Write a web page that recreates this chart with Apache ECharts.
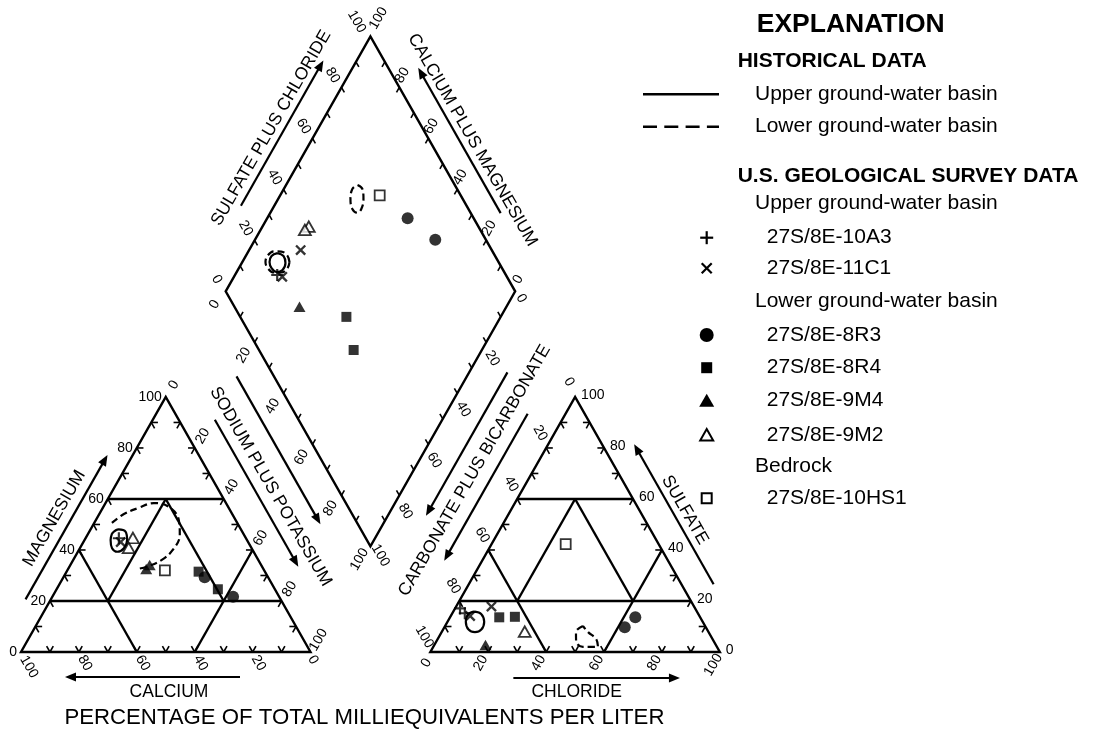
<!DOCTYPE html>
<html>
<head>
<meta charset="utf-8">
<script src="https://cdn.jsdelivr.net/npm/echarts@6/dist/echarts.min.js"></script>
<style>
html,body{margin:0;padding:0;background:#ffffff;}
#chart{width:1094px;height:734px;}
</style>
</head>
<body>
<div id="chart"></div>
<script>
// ================= DATA =================
const scaleLabels = [0, 20, 40, 60, 80, 100];
const tickSteps = [10, 20, 30, 40, 50, 60, 70, 80, 90];
const wellNames = ['27S/8E-10A3', '27S/8E-11C1', '27S/8E-8R3', '27S/8E-8R4', '27S/8E-9M4', '27S/8E-9M2', '27S/8E-10HS1'];

// Cation triangle: [magnesium %, sodium plus potassium %]
const cation10A3 = [[44.6, 11.5]];
const cation11C1 = [[43.1, 12.9]];
const cation8R3 = [[29.3, 48.8], [21.7, 62.4]];
const cation8R4 = [[31.5, 45.6], [24.6, 55.7]];
const cation9M4 = [[32.5, 27.0], [34.1, 27.4]];
const cation9M2 = [[44.7, 16.3], [40.8, 16.8]];
const cation10HS1 = [[32.0, 33.7]];

// Anion triangle: [sulfate %, chloride %]
const anion10A3 = [[17.1, 1.7], [15.2, 4.3]];
const anion11C1 = [[17.8, 12.2], [14.1, 6.7]];
const anion8R3 = [[9.7, 62.3], [13.6, 64.0]];
const anion8R4 = [[13.6, 17.0], [13.8, 22.3]];
const anion9M4 = [[2.7, 17.7]];
const anion9M2 = [[8.0, 28.6]];
const anion10HS1 = [[42.3, 25.6]];

// Diamond: [sulfate plus chloride %, sodium plus potassium %]
const diamond10A3 = [[21.0, 14.6]];
const diamond11C1 = [[34.0, 17.8], [22.4, 16.7]];
const diamond8R3 = [[77.2, 48.5], [82.5, 62.3]];
const diamond8R4 = [[36.7, 46.7], [32.7, 55.7]];
const diamond9M4 = [[22.5, 28.5]];
const diamond9M2 = [[41.4, 16.0], [39.4, 15.3]];
const diamond10HS1 = [[72.0, 34.4]];

// Historical data outlines
const histUpperCation = [[46.5,8.2],[48.1,9.7],[47.2,12.5],[43.9,14.7],[40.7,15.2],[39.3,13.6],[40.7,11.1],[43.9,9.0]];
const histLowerCation = [[50.6,6.1],[54.1,8.5],[56.5,12.4],[58.4,16.7],[56.9,22.6],[51.8,28.6],[45.9,31.9],[40.0,32.4],[36.1,30.6],[33.7,27.3],[32.5,23.75]];
const histUpperAnion = [[15.8,7.5],[14.9,10.1],[11.9,12.65],[8.8,13.2],[7.8,11.5],[8.8,8.8],[11.9,6.3],[14.9,5.7]];
const histLowerAnion = [[10.2,47.6],[7.8,46.4],[4.3,48.2],[2.0,51.7],[2.0,56.9],[5.1,54.7],[7.8,50.6]];
const histUpperDiamond = [[25.4,10.4],[26.9,13.05],[26.2,15.1],[23.8,15.45],[21.4,13.8],[20.4,11.3],[20.9,9.4],[22.8,8.9]];
const histLowerDiamondA = [[27.8,16.3],[28.3,14.2],[27.0,11.4],[24.5,8.8],[21.6,7.5],[19.5,8.0],[19.1,10.1],[20.3,12.9],[22.9,15.5],[25.8,16.8]];
const histLowerDiamondB = [[66.4,24.7],[67.3,27.2],[65.7,29.5],[63.0,30.7],[60.9,30.1],[59.9,27.6],[61.2,25.0],[63.9,23.7]];

const titleCa = 'CALCIUM', titleMg = 'MAGNESIUM', titleNa = 'SODIUM PLUS POTASSIUM';
const titleCl = 'CHLORIDE', titleSO4 = 'SULFATE', titleCO3 = 'CARBONATE PLUS BICARBONATE';
const titleSO4Cl = 'SULFATE PLUS CHLORIDE', titleCaMg = 'CALCIUM PLUS MAGNESIUM';
const titleBottom = 'PERCENTAGE OF TOTAL MILLIEQUIVALENTS PER LITER';
const legendHeads = ['EXPLANATION', 'HISTORICAL DATA', 'U.S. GEOLOGICAL SURVEY DATA'];
const legendGroups = ['Upper ground-water basin', 'Lower ground-water basin', 'Bedrock'];

// ================= GEOMETRY =================
const H = Math.sqrt(3) / 2, GAP = 41.4;
const catXY = (mg, na) => [na + mg / 2, mg * H];
const anXY = (so4, cl) => [100 + GAP + cl + so4 / 2, so4 * H];
const DLX = 50 + GAP / 2, DLY = H * (100 + GAP);
const diaXY = (a, n) => [DLX + (a + n) / 2, DLY + H * (a - n)];

const PX0 = 21, PY0 = 652, KX = 2.895, KY = 2.945, CW = 1094, CH = 734;
const FONT = '"Liberation Sans", Arial, Helvetica, sans-serif';
const LW = 2.4;

function renderDecor(params, api) {
  const P = u => api.coord(u);
  const kids = [];
  const seg = (a, b, w) => kids.push({type: 'line', shape: {x1: a[0], y1: a[1], x2: b[0], y2: b[1]}, style: {stroke: '#000', lineWidth: w, lineCap: 'butt'}});
  const useg = (u0, u1, w) => seg(P(u0), P(u1), w);
  const txt = (t, x, y, rot, size, align) => kids.push({type: 'text', x: x, y: y, rotation: rot * Math.PI / 180,
    style: {text: String(t), fontSize: size, fontFamily: FONT, fill: '#000', align: align || 'center', verticalAlign: 'middle'}});
  const lab = (v, p, dx, dy, rot, align) => txt(v, p[0] + dx, p[1] + dy, rot, 14, align);
  const arrow = (s, e) => {
    const len = Math.hypot(e[0] - s[0], e[1] - s[1]);
    const d = [(e[0] - s[0]) / len, (e[1] - s[1]) / len];
    const hl = 11, hw = 4.5;
    const b = [e[0] - d[0] * hl, e[1] - d[1] * hl];
    seg(s, [e[0] - d[0] * (hl - 2), e[1] - d[1] * (hl - 2)], 2.2);
    kids.push({type: 'polygon', shape: {points: [e, [b[0] + d[1] * hw, b[1] - d[0] * hw], [b[0] - d[1] * hw, b[1] + d[0] * hw]]}, style: {fill: '#000'}});
  };
  const edge = (u0, u1, sign) => {
    const a = P(u0), b = P(u1);
    const len = Math.hypot(b[0] - a[0], b[1] - a[1]);
    const d = [(b[0] - a[0]) / len, (b[1] - a[1]) / len];
    const n = sign > 0 ? [d[1], -d[0]] : [-d[1], d[0]];
    return (along, off) => [a[0] + d[0] * along + n[0] * off, a[1] + d[1] * along + n[1] * off];
  };

  // outlines
  const shapes = [
    [catXY(0, 0), catXY(0, 100), catXY(100, 0)],
    [anXY(0, 0), anXY(0, 100), anXY(100, 0)],
    [diaXY(0, 0), diaXY(100, 0), diaXY(100, 100), diaXY(0, 100)]
  ];
  shapes.forEach(s => kids.push({type: 'polygon', shape: {points: s.map(P)}, style: {fill: 'none', stroke: '#000', lineWidth: LW, lineJoin: 'miter'}}));

  // facies subdivision lines (same layout in both triangles)
  const facies = [[[60, 0], [60, 40]], [[20, 0], [20, 80]], [[0, 40], [40, 0]], [[0, 60], [40, 60]], [[20, 20], [60, 20]], [[20, 60], [60, 20]]];
  facies.forEach(f => { useg(catXY(...f[0]), catXY(...f[1]), LW); useg(anXY(...f[0]), anXY(...f[1]), LW); });

  // ticks
  const TL = 2.3, DT = 2.0, TW = 1.6;
  tickSteps.forEach(v => {
    [catXY, anXY].forEach(f => {
      const b = f(0, v);
      useg(b, [b[0] + 0.5 * TL, b[1] + H * TL], TW); useg(b, [b[0] - 0.5 * TL, b[1] + H * TL], TW);
      const l = f(v, 0);
      useg(l, [l[0] + TL, l[1]], TW); useg(l, [l[0] + 0.5 * TL, l[1] - H * TL], TW);
      const r = f(v, 100 - v);
      useg(r, [r[0] - TL, r[1]], TW); useg(r, [r[0] - 0.5 * TL, r[1] - H * TL], TW);
    });
    let p = diaXY(v, 0); useg(p, [p[0] + 0.5 * DT, p[1] - H * DT], TW);
    p = diaXY(100, v); useg(p, [p[0] - 0.5 * DT, p[1] - H * DT], TW);
    p = diaXY(0, v); useg(p, [p[0] + 0.5 * DT, p[1] + H * DT], TW);
    p = diaXY(v, 100); useg(p, [p[0] - 0.5 * DT, p[1] + H * DT], TW);
  });

  // scale labels
  scaleLabels.forEach(v => {
    const cb = v === 100 ? [8, 15] : v === 0 ? [2.5, 8] : [6, 11];
    lab(v, P(catXY(0, 100 - v)), cb[0], cb[1], -60);
    lab(v, P(catXY(v, 0)), -4, 0, 0, 'right');
    lab(v, P(catXY(100 - v, v)), 8, -12, 60);
    const ab = v === 0 ? [-4, 11] : v === 100 ? [-6.5, 13] : [-7.5, 11];
    lab(v, P(anXY(0, v)), ab[0], ab[1], 60);
    lab(v, P(anXY(v, 100 - v)), 6, -2, 0, 'left');
    lab(v, P(anXY(100 - v, 0)), -6, -15, -60);
    const ul = v === 100 ? [-13.7, -14.6] : [-9, -12];
    lab(v, P(diaXY(v, 0)), ul[0], ul[1], -60);
    const ur = v === 100 ? [8, -18] : [3, -12];
    lab(v, P(diaXY(100, 100 - v)), ur[0], ur[1], 60);
    lab(v, P(diaXY(0, v)), -11, 13, 60);
    const lr = v === 0 ? [6, 7] : v === 100 ? [10, 9] : [6, 16];
    lab(v, P(diaXY(100 - v, 100)), lr[0], lr[1], -60);
  });

  // axis titles and arrows
  const TS = 17.5;
  const cR = edge(catXY(100, 0), catXY(0, 100), 1);
  arrow(cR(44, 31.5), cR(213, 31.5));
  txt(titleNa, ...cR(129.8, 47), -60, TS);
  arrow(cR(17, 71.7), cR(187, 71.7));
  const cL = edge(catXY(0, 0), catXY(100, 0), 1);
  arrow(cL(48, 22), cL(214, 22));
  txt(titleMg, ...cL(132.7, 37), 60, TS);
  const aL = edge(anXY(100, 0), anXY(0, 0), -1);
  arrow(aL(38, 33), aL(207, 33));
  txt(titleCO3, ...aL(113.5, 51), 60, TS);
  arrow(aL(12, 71), aL(177, 71));
  const aR = edge(anXY(0, 100), anXY(100, 0), -1);
  arrow(aR(62, 28), aR(223, 28));
  txt(titleSO4, ...aR(140.7, 39.7), -60, TS);
  const dUL = edge(diaXY(0, 0), diaXY(100, 0), 1);
  arrow(dUL(82, 29), dUL(249, 29));
  txt(titleSO4Cl, ...dUL(164.5, 41), 60, TS);
  const dUR = edge(diaXY(100, 0), diaXY(100, 100), 1);
  arrow(dUR(218, 26), dUR(51, 26));
  txt(titleCaMg, ...dUR(140.6, 37.6), -60, TS);
  const cB = edge(catXY(0, 0), catXY(0, 100), -1);
  arrow(cB(219, 25), cB(44, 25));
  txt(titleCa, ...cB(148, 40), 0, TS);
  const aB = edge(anXY(0, 0), anXY(0, 100), -1);
  arrow(aB(83, 26), aB(249.6, 26));
  txt(titleCl, ...aB(146.3, 40), 0, TS);
  const bot = P(diaXY(0, 100)), base = P(catXY(0, 0));
  txt(titleBottom, bot[0] - 6, base[1] + 66, 0, 22.2);

  return {type: 'group', children: kids};
}

// ================= SERIES =================
const toPts = (cat, an, dia) => [...cat.map(p => catXY(...p)), ...an.map(p => anXY(...p)), ...dia.map(p => diaXY(...p))];
const PLUS = 'path://M4.1,0H5.9V4.1H10V5.9H5.9V10H4.1V5.9H0V4.1H4.1Z';
const black = {color: '#000'};
const open = {color: '#fff', borderColor: '#000', borderWidth: 1.8};
const pointSeries = [
  {name: wellNames[0], data: toPts(cation10A3, anion10A3, diamond10A3), symbol: PLUS, symbolSize: 12, itemStyle: black},
  {name: wellNames[1], data: toPts(cation11C1, anion11C1, diamond11C1), symbol: PLUS, symbolSize: 13, symbolRotate: 45, itemStyle: black},
  {name: wellNames[2], data: toPts(cation8R3, anion8R3, diamond8R3), symbol: 'circle', symbolSize: 12, itemStyle: black},
  {name: wellNames[3], data: toPts(cation8R4, anion8R4, diamond8R4), symbol: 'rect', symbolSize: 10, itemStyle: black},
  {name: wellNames[4], data: toPts(cation9M4, anion9M4, diamond9M4), symbol: 'triangle', symbolSize: [12, 10.5], itemStyle: black},
  {name: wellNames[5], data: toPts(cation9M2, anion9M2, diamond9M2), symbol: 'triangle', symbolSize: [12, 10.5], itemStyle: open},
  {name: wellNames[6], data: toPts(cation10HS1, anion10HS1, diamond10HS1), symbol: 'rect', symbolSize: 10, itemStyle: open}
].map(s => Object.assign({type: 'scatter', z: 5, silent: true}, s));

const loop = (pts, f, closed) => { const a = pts.map(p => f(...p)); if (closed) a.push(a[0]); return a; };
const outline = (data, dashed) => ({type: 'line', data: data, smooth: 0.4, showSymbol: false, silent: true, z: 4,
  lineStyle: {color: '#000', width: 2.2, type: dashed ? [7, 4] : 'solid'}});
const histSeries = [
  outline(loop(histUpperCation, catXY, true), false),
  outline(loop(histLowerCation, catXY, false), true),
  outline(loop(histUpperAnion, anXY, true), false),
  outline(loop(histLowerAnion, anXY, true), true),
  outline(loop(histUpperDiamond, diaXY, true), false),
  outline(loop(histLowerDiamondA, diaXY, true), true),
  outline(loop(histLowerDiamondB, diaXY, true), true)
];

// ================= LEGEND (graphic) =================
const LG = [];
const gText = (t, x, y, size, weight) => LG.push({type: 'text', x: x, y: y, silent: true,
  style: {text: t, fontSize: size, fontFamily: FONT, fontWeight: weight || 'normal', fill: '#000', align: 'left', verticalAlign: 'middle'}});
const gLine = (x1, y1, x2, y2, w, dash) => LG.push({type: 'line', silent: true, shape: {x1, y1, x2, y2}, style: {stroke: '#000', lineWidth: w, lineDash: dash || null}});
const SX = 706.7, TX = 766.7, GX = 755, HX = 737.7;
gText(legendHeads[0], 756.7, 25, 26.5, 'bold');
gText(legendHeads[1], HX, 61.7, 21, 'bold');
gLine(643, 94.3, 719, 94.3, 2.4);
gText(legendGroups[0], GX, 94.3, 21);
gLine(643, 126.7, 719, 126.7, 2.4, [14, 7.3]);
gText(legendGroups[1], GX, 126.7, 21);
gText(legendHeads[2], HX, 176.7, 21, 'bold');
gText(legendGroups[0], GX, 203.3, 21);
gLine(SX - 6.5, 237.7, SX + 6.5, 237.7, 2.2); gLine(SX, 231.2, SX, 244.2, 2.2);
gText(wellNames[0], TX, 237.7, 21);
gLine(SX - 5, 263.3, SX + 5, 273.3, 2.2); gLine(SX - 5, 273.3, SX + 5, 263.3, 2.2);
gText(wellNames[1], TX, 268.3, 21);
gText(legendGroups[1], GX, 301.7, 21);
LG.push({type: 'circle', silent: true, shape: {cx: SX, cy: 335, r: 7}, style: {fill: '#000'}});
gText(wellNames[2], TX, 335, 21);
LG.push({type: 'rect', silent: true, shape: {x: SX - 5.5, y: 367.7 - 5.5, width: 11, height: 11}, style: {fill: '#000'}});
gText(wellNames[3], TX, 367.7, 21);
LG.push({type: 'polygon', silent: true, shape: {points: [[SX, 393.7], [SX + 7.5, 406.7], [SX - 7.5, 406.7]]}, style: {fill: '#000'}});
gText(wellNames[4], TX, 400.7, 21);
LG.push({type: 'polygon', silent: true, shape: {points: [[SX, 429], [SX + 6.5, 440.5], [SX - 6.5, 440.5]]}, style: {fill: '#fff', stroke: '#000', lineWidth: 2}});
gText(wellNames[5], TX, 435, 21);
gText(legendGroups[2], GX, 466.7, 21);
LG.push({type: 'rect', silent: true, shape: {x: SX - 5, y: 498.3 - 5, width: 10, height: 10}, style: {fill: '#fff', stroke: '#000', lineWidth: 2}});
gText(wellNames[6], TX, 498.3, 21);

// ================= CHART =================
const chart = echarts.init(document.getElementById('chart'), null, {renderer: 'canvas'});
chart.setOption({
  animation: false,
  backgroundColor: '#ffffff',
  grid: {left: 0, right: 0, top: 0, bottom: 0, containLabel: false, outerBoundsMode: 'none'},
  xAxis: {type: 'value', min: -PX0 / KX, max: (CW - PX0) / KX, show: false},
  yAxis: {type: 'value', min: -(CH - PY0) / KY, max: PY0 / KY, show: false},
  graphic: LG,
  series: [
    {type: 'custom', renderItem: renderDecor, data: [[0, 0]], silent: true, clip: false, z: 3}
  ].concat(histSeries, pointSeries)
});
</script>
</body>
</html>
